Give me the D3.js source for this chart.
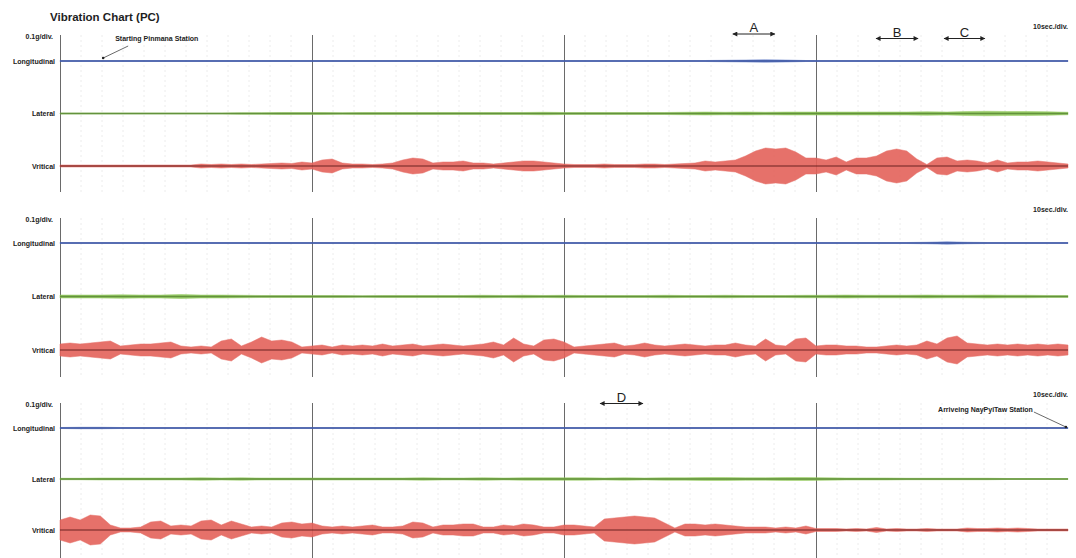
<!DOCTYPE html>
<html>
<head>
<meta charset="utf-8">
<script src="https://cdn.jsdelivr.net/npm/d3@7"></script>
<style>
  body { margin: 0; background: #fff; }
  svg { display: block; }
  text { font-family: "Liberation Sans", Arial, Helvetica, sans-serif; }
</style>
</head>
<body>
<svg id="chart" width="1076" height="558"></svg>
<script>
// ---- data -------------------------------------------------------------
const channels = ["Longitudinal", "Lateral", "Vritical"];
const stripSeconds = 240;          // time covered by one strip
const majorStep = 60;              // dark division lines
const minorStep = 5;               // light division lines
const vertStep = 2.4;              // s between vertical envelope samples
const sideStep = 4.8;              // s between lateral / longitudinal samples

// Peak acceleration envelopes (mg), strip 1 .. 3
const vertical1 = [2,2,2,2,2,2,2,2,2,2,2,2,2,2,
  4,3,4,3,4,3,4,5,6,5,8,6,12,14,
  6,4,4,3,4,6,12,16,14,6,8,8,10,6,
  6,4,6,8,10,10,8,6,4,3,3,3,4,3,
  3,3,4,4,3,4,5,6,10,8,10,12,20,30,
  36,34,36,28,16,16,12,18,8,16,16,20,30,34,
  30,14,3,16,18,10,12,10,6,12,6,8,8,10,8,6,4];
const vertical2 = [12,14,12,14,16,18,8,10,12,12,14,16,8,6,
  8,6,18,22,8,16,26,18,20,16,6,8,10,6,
  10,8,10,8,12,8,10,12,8,10,12,10,8,10,
  12,16,10,24,12,8,20,22,16,6,8,10,12,14,
  8,10,14,10,8,10,12,10,8,10,10,14,10,8,
  22,10,8,22,24,8,10,10,8,8,6,6,8,10,
  8,10,18,12,24,28,14,12,10,12,10,12,10,12,10,12,10];
const vertical3 = [20,26,20,30,28,10,4,4,6,16,18,8,10,8,
  18,20,10,18,12,6,8,6,14,16,12,14,8,6,
  8,6,8,10,6,6,8,16,14,6,10,10,12,12,
  6,6,10,8,12,10,6,6,10,10,8,6,22,24,
  26,28,26,24,14,4,12,12,10,12,10,8,6,6,
  6,4,6,4,8,3,3,3,2,3,2,5,2,3,
  2,2,3,2,2,2,4,3,3,4,3,4,3,2,2,2,2];

const lateral1 = [1,1,1,1,1,1,1,1,1,1.5,1.5, 2,2,2,1.5,2,2,2,2,2,2,
  2,2,2,2.5,2,2,2,2,2,2, 2.5,3,2.5,3,2.5,3,3,3,3,3, 3,3,3.5,3,4,4.5,4,4,3.5,2.5];
const lateral2 = [3,3,3,3.5,3,3,4,3,3,2.5,2, 2,2,2,2,1.5,2,2,2,2,2,
  2.5,2,2.5,2,2.5,2,2,2,2,2.5, 2,2,2.5,2,2,2,2.5,2.5,3,2.5, 2.5,2.5,3,2.5,2.5,3,2.5,2.5,2,2];
const lateral3 = [1.5,1.5,2,2,2,2,2,2.5,2,2.5,2, 2,2,2,2,2,2,2,2.5,2,2,
  2.5,2,2.5,2.5,2.5,2.5,2,2.5,2,2.5, 2.5,3,3,2.5,2.5,3,3,2.5,2,2, 2,1.5,1.5,1.5,1.5,1.5,1,1,1,1];

const longitudinal1 = [1,1,1,1,1,1,1,1,1,1,1,1,1,1,1,1,1,1,1,1,1,1,1,1,1,1,1,1,1,1,1,1,1,
  1.5,2,2.5,2, 1,1,1,1,1,1,1,1,1,1,1,1,1,1];
const longitudinal2 = [1,1,1,1,1,1,1,1,1,1,1,1,1,1,1,1,1,1,1,1,1,1,1,1,1,1,1,1,1,1,1,1,1,1,1,1,1,1,1,1,1,1,1,
  1.5,2.5,1.5, 1,1,1,1,1];
const longitudinal3 = [1,1.5,1.5,1,1,1,1,1,1,1,1,1,1,1,1,1,1,1,1,1,1,1,1,1,1,1,1,1,1,1,1,1,1,1,1,1,1,1,1,1,1,1,1,1,1,1,1,1,1,1,1];

const stripData = [
  [longitudinal1, lateral1, vertical1],
  [longitudinal2, lateral2, vertical2],
  [longitudinal3, lateral3, vertical3]
];

// Event markers (strip index, start s, end s)
const markerLabels = ["A", "B", "C", "D"];
const markerStrip  = [0, 0, 0, 2];
const markerStart  = [160.2, 194.3, 210.5, 128.6];
const markerEnd    = [170.2, 204.3, 220.2, 138.8];

// Station notes on the longitudinal trace
const stationText  = ["Starting Pinmana  Station", "Arriveing NayPyiTaw Station"];
const stationStrip = [0, 2];
const stationTime  = [9.8, 239.5];

// ---- layout -----------------------------------------------------------
const strips = [
  { top: 35, bottom: 192, first: 61, last: 166 },
  { top: 218, bottom: 377, first: 243, last: 350 },
  { top: 403, bottom: 558, first: 428, last: 530 }
];
const markerY = [34, 38.5, 38.5, 403.5];
const fills   = ["#5a76c4", "#8fc757", "#e4625a"];
const cores   = ["#3d55a0", "#5e8c38", "#5e1b1b"];
const coreW   = [1.4, 1.4, 1.2];

const svg = d3.select("#chart");
const x = d3.scaleLinear().domain([0, stripSeconds]).range([60, 1068]);
const amp = d3.scaleLinear().domain([0, 100]).range([0, 50]); // 0.1 g per division

svg.append("text").attr("x", 50).attr("y", 21)
  .attr("font-size", 11.5).attr("fill", "#1e1e1e").attr("font-weight", 600)
  .text("Vibration Chart (PC)");

strips.forEach((s, si) => {
  const g = svg.append("g");
  const y = d3.scalePoint().domain(channels).range([s.first, s.last]);

  // light division lines
  const minor = d3.range(minorStep, stripSeconds + 0.01, minorStep).filter(t => t % majorStep !== 0);
  g.selectAll("line.minor").data(minor).join("line")
    .attr("x1", d => x(d)).attr("x2", d => x(d))
    .attr("y1", s.top).attr("y2", s.bottom)
    .attr("stroke", "#ececec").attr("stroke-width", 1).attr("stroke-dasharray", "2,3");

  // dark division lines, including the left axis
  const major = d3.range(0, stripSeconds, majorStep);
  g.selectAll("line.major").data(major).join("line")
    .attr("x1", d => x(d) + 0.5).attr("x2", d => x(d) + 0.5)
    .attr("y1", s.top).attr("y2", s.bottom)
    .attr("stroke", "#6a6a6a").attr("stroke-width", 1);

  g.append("text").attr("x", 53).attr("y", s.top + 4).attr("text-anchor", "end")
    .attr("font-size", 7).attr("font-weight", "bold").attr("fill", "#222")
    .text("0.1g/div.");
  g.append("text").attr("x", 1068).attr("y", s.top - 6).attr("text-anchor", "end")
    .attr("font-size", 7).attr("font-weight", "bold").attr("fill", "#222")
    .text("10sec./div.");

  channels.forEach((ch, ci) => {
    const series = stripData[si][ci];
    const step = ci === 2 ? vertStep : sideStep;
    const pts = series.map((v, i) => ({ t: Math.min(i * step, stripSeconds), v }));
    const base = y(ch);
    const area = d3.area()
      .x(d => x(d.t))
      .y0(d => base + amp(d.v))
      .y1(d => base - amp(d.v))
      .curve(d3.curveLinear);
    g.append("path").datum(pts).attr("d", area)
      .attr("fill", fills[ci]).attr("stroke", fills[ci]).attr("stroke-width", 0.5)
      .attr("opacity", 0.9);
    g.append("line")
      .attr("x1", x(0)).attr("x2", x(stripSeconds))
      .attr("y1", base).attr("y2", base)
      .attr("stroke", cores[ci]).attr("stroke-width", coreW[ci])
      .attr("opacity", 0.9);
    g.append("text").attr("x", 55).attr("y", base + 2.5).attr("text-anchor", "end")
      .attr("font-size", 7).attr("font-weight", "bold").attr("fill", "#222")
      .text(ch);
  });
});

// event markers: double-headed arrows with a letter
const defs = svg.append("defs");
defs.append("marker").attr("id", "head").attr("viewBox", "0 0 10 10")
  .attr("refX", 9).attr("refY", 5).attr("markerWidth", 6).attr("markerHeight", 5)
  .attr("orient", "auto-start-reverse").attr("markerUnits", "userSpaceOnUse")
  .append("path").attr("d", "M0,0L10,5L0,10Z").attr("fill", "#222");

markerLabels.forEach((lab, k) => {
  const x0 = x(markerStart[k]), x1 = x(markerEnd[k]), yy = markerY[k];
  svg.append("line").attr("x1", x0).attr("x2", x1).attr("y1", yy).attr("y2", yy)
    .attr("stroke", "#222").attr("stroke-width", 1)
    .attr("marker-start", "url(#head)").attr("marker-end", "url(#head)");
  svg.append("text").attr("x", (x0 + x1) / 2).attr("y", yy - 2)
    .attr("text-anchor", "middle").attr("font-size", 13).attr("fill", "#1e1e1e")
    .text(lab);
});

// station notes with leader lines
stationText.forEach((txt, k) => {
  const s = strips[stationStrip[k]];
  const yL = d3.scalePoint().domain(channels).range([s.first, s.last])(channels[0]);
  const px = x(stationTime[k]);
  if (k === 0) {
    svg.append("line").attr("x1", px + 2).attr("y1", yL - 3).attr("x2", px + 27).attr("y2", yL - 15)
      .attr("stroke", "#444").attr("stroke-width", 0.8);
    svg.append("circle").attr("cx", px + 2).attr("cy", yL - 3).attr("r", 1.3).attr("fill", "#222");
    svg.append("text").attr("x", px + 14).attr("y", yL - 20)
      .attr("font-size", 7).attr("font-weight", "bold").attr("fill", "#222").text(txt);
  } else {
    svg.append("line").attr("x1", px - 32).attr("y1", yL - 16).attr("x2", px).attr("y2", yL - 1)
      .attr("stroke", "#444").attr("stroke-width", 0.8);
    svg.append("circle").attr("cx", px).attr("cy", yL - 1).attr("r", 1.3).attr("fill", "#222");
    svg.append("text").attr("x", px - 33).attr("y", yL - 16).attr("text-anchor", "end")
      .attr("font-size", 7).attr("font-weight", "bold").attr("fill", "#222").text(txt);
  }
});
</script>
</body>
</html>
